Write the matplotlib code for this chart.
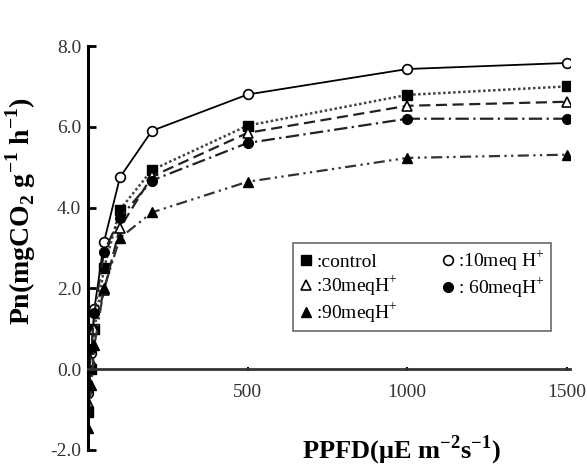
import matplotlib
matplotlib.use('Agg')
import matplotlib.pyplot as plt

# light response of net photosynthesis
ppfd = [0, 10, 20, 50, 100, 200, 500, 1000, 1500]

control = [-1.05, 0.0, 1.0, 2.5, 3.95, 4.93, 6.03, 6.79, 7.0]
meq10 = [-0.6, 0.4, 1.5, 3.15, 4.75, 5.9, 6.8, 7.43, 7.58]
meq30 = [-0.8, 0.2, 1.0, 1.95, 3.5, 4.77, 5.85, 6.52, 6.62]
meq60 = [-0.5, 0.5, 1.4, 2.9, 3.75, 4.67, 5.6, 6.2, 6.2]
meq90 = [-1.45, -0.4, 0.6, 2.0, 3.25, 3.88, 4.64, 5.23, 5.31]

labels = [':control', ':10meq H$^{+}$', ':30meqH$^{+}$', ': 60meqH$^{+}$', ':90meqH$^{+}$']
yticks = [-2, 0, 2, 4, 6, 8]
xticks = [500, 1000, 1500]

plt.rcParams['font.family'] = ['Liberation Serif', 'DejaVu Serif']
plt.rcParams['mathtext.fontset'] = 'custom'
plt.rcParams['mathtext.rm'] = 'Liberation Serif'
plt.rcParams['mathtext.bf'] = 'Liberation Serif:bold'

fig = plt.figure(figsize=(5.87, 4.68), dpi=100)
ax = fig.add_axes([0.15, 0.0385, 0.821, 0.8632])

ms = 7
h_ctrl, = ax.plot(ppfd, control, color='#444444', ls=(0, (1, 1)), lw=1.8,
                  marker='s', mfc='black', mec='black', ms=ms)
h_10, = ax.plot(ppfd, meq10, color='black', ls='-', lw=1.3,
                marker='o', mfc='white', mec='black', mew=1.2, ms=ms)
h_30, = ax.plot(ppfd, meq30, color='#222222', ls=(0, (5, 2.5)), lw=1.6,
                marker='^', mfc='white', mec='black', mew=1.2, ms=ms)
h_60, = ax.plot(ppfd, meq60, color='#222222', ls=(0, (6, 2, 1, 2)), lw=1.6,
                marker='o', mfc='black', mec='black', ms=ms)
h_90, = ax.plot(ppfd, meq90, color='#333333', ls=(0, (5, 2, 1, 2, 1, 2)), lw=1.6,
                marker='^', mfc='black', mec='black', ms=ms)

ax.set_xlim(0, 1510)
ax.set_ylim(-2, 8)

ax.spines['top'].set_visible(False)
ax.spines['right'].set_visible(False)
ax.spines['bottom'].set_position(('data', 0))
ax.spines['left'].set_linewidth(2.2)
ax.spines['bottom'].set_linewidth(2.0)
ax.spines['bottom'].set_color('#333333')

ax.set_yticks(yticks)
ax.set_yticklabels(['%.1f' % v for v in yticks])
ax.set_xticks(xticks)
ax.set_xticklabels([str(v) for v in xticks])
ax.tick_params(axis='y', direction='in', length=6, width=2, labelsize=14,
               labelcolor='#333333', pad=5)
ax.tick_params(axis='x', direction='inout', length=3, width=1.5, labelsize=14,
               labelcolor='#333333', pad=9)

fig.text(0.036, 0.55, 'Pn(mgCO$_{\\mathbf{2}}$ g$^{\\mathbf{-1}}$ h$^{\\mathbf{-1}}$)',
         rotation=90, ha='center', va='center', fontsize=20, fontweight='bold')
fig.text(0.683, 0.002, 'PPFD($\\mathbf{\\mu}$E m$^{\\mathbf{-2}}$s$^{\\mathbf{-1}}$)',
         ha='center', va='bottom', fontsize=19, fontweight='bold')

handles = [h_ctrl, h_30, h_90, h_10, h_60]
order = [0, 2, 4, 1, 3]
leg = ax.legend(handles, [labels[i] for i in order], ncol=2, loc='upper left',
                bbox_to_anchor=(0.425, 0.512), fontsize=14, frameon=True,
                fancybox=False, edgecolor='#444444', handlelength=0.8,
                handletextpad=0.1, columnspacing=2.2, labelspacing=0.15,
                borderpad=0.3, borderaxespad=0)
leg.get_frame().set_linewidth(1.2)
for line in leg.get_lines():
    line.set_linestyle('none')

fig.savefig('out.png', dpi=100)
